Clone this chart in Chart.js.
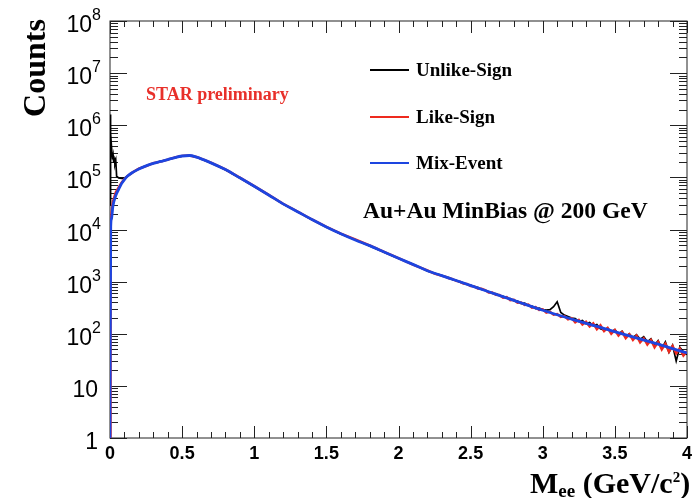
<!DOCTYPE html>
<html>
<head>
<meta charset="utf-8">
<script src="https://cdn.jsdelivr.net/npm/chart.js@4.4.0/dist/chart.umd.min.js"></script>
<style>
  html, body { margin: 0; padding: 0; background: #fff; }
  #plot { display: block; }
</style>
</head>
<body>
<canvas id="plot" width="698" height="498"></canvas>
<script>
// --- data (M_ee in GeV/c^2, counts per bin) ---
const massMix = [0, 0.005, 0.01, 0.02, 0.04, 0.06, 0.08, 0.1, 0.12, 0.16, 0.2, 0.25, 0.3, 0.35, 0.4, 0.45, 0.5, 0.55, 0.6, 0.7, 0.8, 0.9, 1.0, 1.1, 1.2, 1.3, 1.4, 1.5, 1.6, 1.7, 1.8, 1.9, 2.0, 2.1, 2.2, 2.3, 2.4, 2.6, 2.8, 3.0, 3.2, 3.4, 3.6, 3.8, 4.0];
const countsMix = [1, 1.12e4, 1.6e4, 2.8e4, 4.5e4, 5.9e4, 7.6e4, 9.1e4, 1.05e5, 1.26e5, 1.45e5, 1.66e5, 1.86e5, 2.02e5, 2.19e5, 2.4e5, 2.57e5, 2.63e5, 2.45e5, 1.9e5, 1.41e5, 9.8e4, 6.76e4, 4.6e4, 3.1e4, 2.2e4, 1.55e4, 1.12e4, 8.3e3, 6.3e3, 4.9e3, 3.7e3, 2.8e3, 2.14e3, 1.62e3, 1.3e3, 1.05e3, 676, 437, 282, 191, 132, 91, 63, 42.7];

const massLikeLow = [0, 0.004, 0.01, 0.02, 0.04, 0.06, 0.08, 0.1, 0.12];
const countsLikeLow = [1, 1.3e4, 2.0e4, 3.4e4, 5.2e4, 6.4e4, 7.9e4, 9.3e4, 1.06e5];
const massUnlikeLow = [0, 0.002, 0.006, 0.01, 0.014, 0.018, 0.022, 0.026, 0.03, 0.034, 0.04, 0.046, 0.06, 0.08, 0.1, 0.12];
const countsUnlikeLow = [3e4, 1.6e6, 7e5, 4e5, 2.8e5, 2.2e5, 2.6e5, 1.9e5, 2.4e5, 1.8e5, 2.1e5, 1.05e5, 9.8e4, 9.6e4, 9.7e4, 1.05e5];

const massMid = [0.16, 0.2, 0.25, 0.3, 0.35, 0.4, 0.45, 0.5, 0.55, 0.6, 0.7, 0.8, 0.9, 1.0, 1.1, 1.2, 1.3, 1.4, 1.5, 1.6, 1.7, 1.8, 1.9, 2.0, 2.1, 2.2, 2.25];
const countsLikeMid = [1.27e5, 1.47e5, 1.65e5, 1.88e5, 2.0e5, 2.2e5, 2.42e5, 2.58e5, 2.62e5, 2.46e5, 1.92e5, 1.42e5, 9.9e4, 6.8e4, 4.62e4, 3.12e4, 2.21e4, 1.56e4, 1.13e4, 8.35e3, 6.45e3, 4.95e3, 3.72e3, 2.82e3, 2.12e3, 1.64e3, 1.42e3];
const countsUnlikeMid = [1.25e5, 1.46e5, 1.67e5, 1.85e5, 2.03e5, 2.18e5, 2.39e5, 2.56e5, 2.63e5, 2.44e5, 1.89e5, 1.4e5, 9.7e4, 6.7e4, 4.58e4, 3.08e4, 2.19e4, 1.54e4, 1.11e4, 8.25e3, 6.35e3, 4.85e3, 3.68e3, 2.78e3, 2.16e3, 1.6e3, 1.45e3];

const massHigh = [2.300, 2.325, 2.350, 2.375, 2.400, 2.425, 2.450, 2.475, 2.500, 2.525, 2.550, 2.575, 2.600, 2.625, 2.650, 2.675, 2.700, 2.725, 2.750, 2.775, 2.800, 2.825, 2.850, 2.875, 2.900, 2.925, 2.950, 2.975, 3.000, 3.025, 3.050, 3.075, 3.100, 3.125, 3.150, 3.175, 3.200, 3.225, 3.250, 3.275, 3.300, 3.325, 3.350, 3.375, 3.400, 3.425, 3.450, 3.475, 3.500, 3.525, 3.550, 3.575, 3.600, 3.625, 3.650, 3.675, 3.700, 3.725, 3.750, 3.775, 3.800, 3.825, 3.850, 3.875, 3.900, 3.925, 3.950, 3.975, 4.000];
const countsLikeHigh = [1290, 1250, 1160, 1120, 1030, 1000, 915, 900, 820, 810, 735, 730, 690, 615, 620, 560, 555, 490, 505, 440, 450, 395, 400, 355, 365, 315, 325, 285, 295, 255, 265, 232, 240, 210, 218, 188, 200, 165, 185, 150, 170, 138, 158, 122, 145, 112, 130, 100, 118, 92, 108, 82, 98, 76, 92, 68, 82, 62, 76, 55, 70, 50, 64, 45, 58, 42, 52, 38, 46];
const countsUnlikeHigh = [1320, 1215, 1190, 1095, 1065, 975, 950, 880, 860, 785, 775, 705, 690, 640, 595, 590, 540, 525, 480, 475, 430, 425, 380, 385, 345, 340, 305, 310, 290, 285, 290, 330, 410, 255, 228, 215, 200, 195, 172, 180, 155, 165, 142, 150, 125, 118, 128, 108, 120, 98, 112, 90, 100, 84, 96, 78, 88, 70, 80, 60, 74, 52, 70, 44, 60, 30, 55, 45, 40];

const xTickStep = 0.5;
const yDecades = [0, 1, 2, 3, 4, 5, 6, 7, 8];
const seriesNames = ['Unlike-Sign', 'Like-Sign', 'Mix-Event'];
const seriesColors = ['#000000', '#ee2a1e', '#1d45e0'];

function pts(xs, ys) { return xs.map((x, i) => ({ x: x, y: ys[i] })); }

const unlikeData = pts(massUnlikeLow.concat(massMid, massHigh), countsUnlikeLow.concat(countsUnlikeMid, countsUnlikeHigh));
const likeData = pts(massLikeLow.concat(massMid, massHigh), countsLikeLow.concat(countsLikeMid, countsLikeHigh));
const mixData = pts(massMix, countsMix);

const SERIF = '"Liberation Serif", "Times New Roman", serif';
const SANS = '"Liberation Sans", Arial, Helvetica, sans-serif';

// ROOT style frame with inward ticks, y labels with exponents, texts and legend
const rootFrame = {
  id: 'rootFrame',
  beforeDatasetsDraw(chart) {
    const { ctx, chartArea: a, scales: { x, y } } = chart;
    ctx.save();
    ctx.strokeStyle = '#222';
    ctx.lineWidth = 1;
    ctx.strokeRect(a.left, a.top, a.right - a.left, a.bottom - a.top);
    ctx.beginPath();
    for (let i = 0; i <= 40; i++) {
      const px = Math.round(x.getPixelForValue(i / 10)) + 0.5;
      const len = (i % 5 === 0) ? 12 : 6;
      ctx.moveTo(px, a.bottom); ctx.lineTo(px, a.bottom - len);
      ctx.moveTo(px, a.top); ctx.lineTo(px, a.top + len);
    }
    for (let e = 0; e < 8; e++) {
      for (let m = 1; m <= 9; m++) {
        const py = Math.round(y.getPixelForValue(m * Math.pow(10, e))) + 0.5;
        const len = (m === 1) ? 17 : 8;
        ctx.moveTo(a.left, py); ctx.lineTo(a.left + len, py);
        ctx.moveTo(a.right, py); ctx.lineTo(a.right - len, py);
      }
    }
    const pTop = Math.round(y.getPixelForValue(1e8)) + 0.5;
    ctx.moveTo(a.left, pTop); ctx.lineTo(a.left + 17, pTop);
    ctx.moveTo(a.right, pTop); ctx.lineTo(a.right - 17, pTop);
    ctx.stroke();
    ctx.restore();
  },
  afterDraw(chart) {
    const { ctx, scales: { y } } = chart;
    ctx.save();
    ctx.fillStyle = '#000';
    // y tick labels: 1, 10, 10^2 ... 10^8
    yDecades.forEach(e => {
      const py = y.getPixelForValue(Math.pow(10, e));
      const right = 100;
      ctx.textAlign = 'right';
      ctx.textBaseline = 'alphabetic';
      if (e === 0 || e === 1) {
        ctx.font = '23px ' + SANS;
        ctx.fillText(e === 0 ? '1' : '10', right - 2, py + 11);
      } else {
        ctx.font = '16px ' + SANS;
        const sup = String(e);
        const w = ctx.measureText(sup).width;
        ctx.fillText(sup, right + 1, py - 1);
        ctx.font = '23px ' + SANS;
        ctx.fillText('10', right + 1 - w, py + 11);
      }
    });
    // y axis title
    ctx.save();
    ctx.translate(45, 68);
    ctx.rotate(-Math.PI / 2);
    ctx.textAlign = 'center';
    ctx.font = 'bold 32px ' + SERIF;
    ctx.fillText('Counts', 0, 0);
    ctx.restore();
    // x axis title M_ee (GeV/c^2)
    ctx.textAlign = 'left';
    let cx = 530;
    const parts = [
      ['M', 'bold 30px ' + SERIF, 493],
      ['ee', 'bold 19px ' + SERIF, 497],
      [' (GeV/c', 'bold 30px ' + SERIF, 493],
      ['2', 'bold 15px ' + SERIF, 482],
      [')', 'bold 30px ' + SERIF, 493]
    ];
    parts.forEach(p => {
      ctx.font = p[1];
      ctx.fillText(p[0], cx, p[2]);
      cx += ctx.measureText(p[0]).width;
    });
    // STAR preliminary
    ctx.fillStyle = '#e8302a';
    ctx.font = 'bold 18px ' + SERIF;
    ctx.fillText('STAR preliminary', 146, 100);
    // legend
    const legY = [70, 117, 163];
    seriesNames.forEach((name, i) => {
      ctx.strokeStyle = seriesColors[i];
      ctx.lineWidth = 2;
      ctx.beginPath();
      ctx.moveTo(370, legY[i]);
      ctx.lineTo(409, legY[i]);
      ctx.stroke();
      ctx.fillStyle = '#000';
      ctx.font = 'bold 19px ' + SERIF;
      ctx.fillText(name, 416, legY[i] + 6);
    });
    ctx.font = 'bold 23.5px ' + SERIF;
    ctx.fillText('Au+Au MinBias @ 200 GeV', 363, 218);
    ctx.restore();
  }
};

new Chart(document.getElementById('plot'), {
  type: 'line',
  data: {
    datasets: [
      { label: seriesNames[2], data: mixData, borderColor: seriesColors[2], borderWidth: 2.8, pointRadius: 0, cubicInterpolationMode: 'monotone', fill: false },
      { label: seriesNames[1], data: likeData, borderColor: seriesColors[1], borderWidth: 2.4, pointRadius: 0, tension: 0, fill: false },
      { label: seriesNames[0], data: unlikeData, borderColor: seriesColors[0], borderWidth: 1.7, pointRadius: 0, tension: 0, fill: false }
    ]
  },
  options: {
    responsive: false,
    animation: false,
    devicePixelRatio: 1,
    layout: { padding: { left: 0, right: 11, top: 21, bottom: 22 } },
    plugins: { legend: { display: false }, tooltip: { enabled: false } },
    scales: {
      x: {
        type: 'linear', min: 0, max: 4,
        grid: { display: false, drawTicks: false },
        border: { display: false },
        ticks: {
          stepSize: xTickStep, padding: 5, color: '#000', maxRotation: 0,
          font: { family: SANS, size: 18, weight: 'bold' },
          callback: v => String(v)
        },
        afterFit: s => { s.height = 38; }
      },
      y: {
        type: 'logarithmic', min: 1, max: 1e8,
        grid: { display: false, drawTicks: false },
        border: { display: false },
        ticks: { display: false },
        afterFit: s => { s.width = 110; }
      }
    }
  },
  plugins: [rootFrame]
});
</script>
</body>
</html>
